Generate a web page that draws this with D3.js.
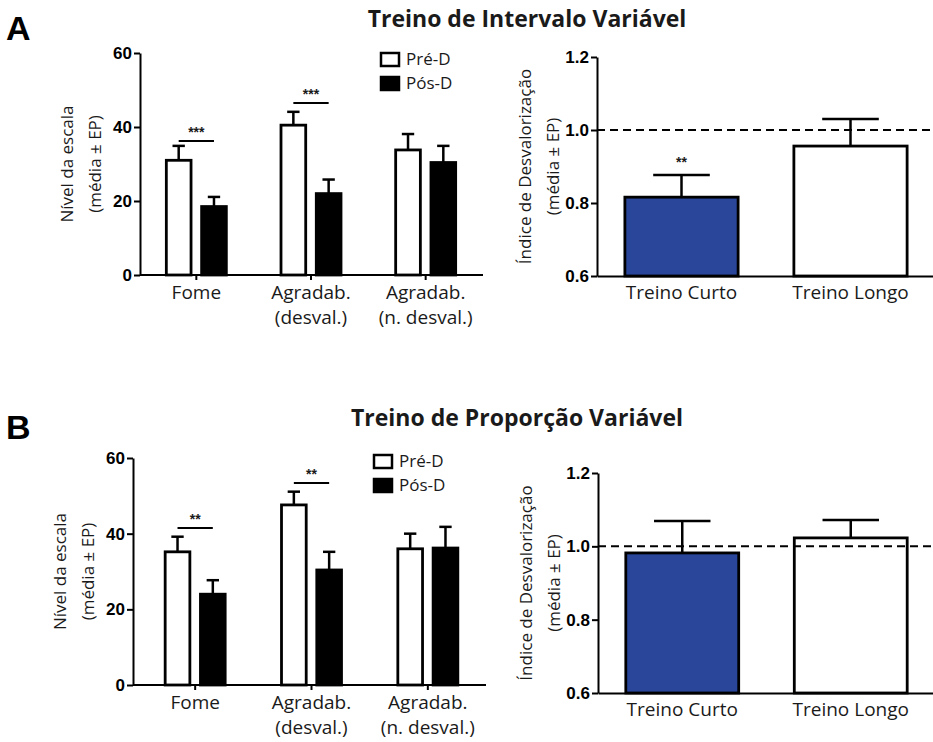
<!DOCTYPE html>
<html>
<head>
<meta charset="utf-8">
<script src="https://cdn.jsdelivr.net/npm/d3@7"></script>
<style>
body { margin: 0; background: #fff; }
svg text { font-family: "Open Sans", sans-serif; fill: #1a1a1a; }
.axis path, .axis line { stroke: #000; stroke-width: 2; }
</style>
</head>
<body>
<div id="plot"></div>
<script>
// Categories and series
var groups = [["Fome"], ["Agradab.", "(desval.)"], ["Agradab.", "(n. desval.)"]];
var phases = ["Pré-D", "Pós-D"];
var phaseFill = ["#fff", "#000"];
var scaleTicks = [0, 20, 40, 60];

// A - Treino de Intervalo Variável
var intervalPre = [31.0, 40.5, 33.8];
var intervalPreErr = [3.9, 3.6, 4.3];
var intervalPost = [18.5, 22.0, 30.4];
var intervalPostErr = [2.6, 3.8, 4.5];
var intervalSig = ["***", "***", ""];
var intervalSigAt = [36.2, 46.5, null];

// B - Treino de Proporção Variável
var ratioPre = [35.2, 47.6, 36.0];
var ratioPreErr = [4.0, 3.5, 4.0];
var ratioPost = [24.0, 30.4, 36.2];
var ratioPostErr = [3.7, 4.8, 5.6];
var ratioSig = ["**", "**", ""];
var ratioSigAt = [41.5, 53.4, null];

// Devaluation index
var trainings = ["Treino Curto", "Treino Longo"];
var trainingFill = ["#2a469a", "#fff"];
var indexTicks = [0.6, 0.8, 1.0, 1.2];
var intervalIndex = [0.816, 0.956];
var intervalIndexErr = [0.061, 0.074];
var intervalIndexSig = ["**", ""];
var ratioIndex = [0.982, 1.023];
var ratioIndexErr = [0.087, 0.049];
var ratioIndexSig = ["", ""];

var width = 933, height = 742;

var svg = d3.select("#plot")
     .append("svg")
     .attr("width", width)
     .attr("height", height);

function errorBar(g, cx, w, y0, y1) {
     g.append("line")
          .attr("x1", cx).attr("x2", cx)
          .attr("y1", y0).attr("y2", y1)
          .attr("stroke", "#000").attr("stroke-width", 2.5);
     g.append("line")
          .attr("x1", cx - w / 4).attr("x2", cx + w / 4)
          .attr("y1", y1).attr("y2", y1)
          .attr("stroke", "#000").attr("stroke-width", 2.5);
}

function styleTicks(sel) {
     sel.selectAll(".tick text")
          .style("font-family", "Liberation Sans, Arial, sans-serif")
          .style("font-weight", "bold")
          .style("font-size", "17px")
          .style("fill", "#000");
}

function yLabel(g, x, y, lines) {
     lines.forEach(function(t, i) {
          g.append("text")
               .attr("transform", "translate(" + (x + i * 28) + "," + y + ") rotate(-90)")
               .attr("text-anchor", "middle")
               .attr("dy", "0.35em")
               .style("font-size", "17px")
               .text(t);
     });
}

// Left chart: Pre/Post bars per group
function drawScaleChart(lay, pre, preErr, post, postErr, sig, sigAt) {
     var g = svg.append("g");
     var values = [pre, post], errs = [preErr, postErr];

     var x0 = d3.scaleBand()
          .domain(d3.range(groups.length))
          .range([lay.left, lay.right]);
     var x1 = d3.scaleBand()
          .domain(d3.range(phases.length))
          .range([-30, 30])
          .paddingInner(0.3);
     var y = d3.scaleLinear()
          .domain([0, 60])
          .range([lay.bottom, lay.top]);

     // bars
     phases.forEach(function(p, j) {
          g.selectAll(".bar" + j)
               .data(values[j])
               .enter()
               .append("rect")
               .attr("x", function(d, i) { return x0(i) + x0.bandwidth() / 2 + x1(j); })
               .attr("y", function(d) { return y(d); })
               .attr("width", x1.bandwidth())
               .attr("height", function(d) { return y(0) - y(d); })
               .attr("fill", phaseFill[j])
               .attr("stroke", "#000")
               .attr("stroke-width", 2.8);

          values[j].forEach(function(v, i) {
               var cx = x0(i) + x0.bandwidth() / 2 + x1(j) + x1.bandwidth() / 2;
               errorBar(g, cx, x1.bandwidth(), y(v), y(v + errs[j][i]));
          });
     });

     // significance bars
     sig.forEach(function(s, i) {
          if (!s) return;
          var c = x0(i) + x0.bandwidth() / 2;
          var xa = c + x1(0) + x1.bandwidth() / 2;
          var xb = c + x1(1) + x1.bandwidth() / 2;
          g.append("line")
               .attr("x1", xa).attr("x2", xb)
               .attr("y1", y(sigAt[i])).attr("y2", y(sigAt[i]))
               .attr("stroke", "#000").attr("stroke-width", 2);
          g.append("text")
               .attr("x", (xa + xb) / 2)
               .attr("y", y(sigAt[i]) - 4)
               .attr("text-anchor", "middle")
               .style("font-family", "Liberation Sans, Arial, sans-serif")
               .style("font-weight", "bold")
               .style("font-size", "14px")
               .text(s);
     });

     // axes
     g.append("g")
          .attr("class", "axis")
          .attr("transform", "translate(0," + lay.bottom + ")")
          .call(d3.axisBottom(x0).tickSize(5).tickSizeOuter(0).tickFormat(""));

     g.append("g")
          .attr("class", "axis")
          .attr("transform", "translate(" + lay.axisX + ",0)")
          .call(d3.axisLeft(y).tickValues(scaleTicks).tickSize(6).tickSizeOuter(0).tickPadding(2))
          .call(styleTicks);

     g.select(".axis path").attr("d", "M" + lay.axisX + ",0H" + lay.right);

     // category labels
     groups.forEach(function(lines, i) {
          var t = g.append("text")
               .attr("text-anchor", "middle")
               .style("font-size", "19px");
          lines.forEach(function(l, k) {
               t.append("tspan")
                    .attr("x", x0(i) + x0.bandwidth() / 2)
                    .attr("y", lay.bottom + 24 + k * 25)
                    .text(l);
          });
     });

     // legend
     phases.forEach(function(p, j) {
          g.append("rect")
               .attr("x", lay.legendX)
               .attr("y", lay.legendY + j * 24)
               .attr("width", 18)
               .attr("height", 13)
               .attr("fill", phaseFill[j])
               .attr("stroke", "#000")
               .attr("stroke-width", 2.5);
          g.append("text")
               .attr("x", lay.legendX + 25)
               .attr("y", lay.legendY + j * 24 + 12)
               .style("font-size", "17px")
               .text(p);
     });

     yLabel(g, lay.axisX - 73, (lay.top + lay.bottom) / 2, ["Nível da escala", "(média ± EP)"]);
}

// Right chart: devaluation index
function drawIndexChart(lay, vals, errs, sig) {
     var g = svg.append("g");

     var x = d3.scaleBand()
          .domain(trainings)
          .range([lay.axisX, width + 2])
          .paddingInner(0.33)
          .paddingOuter(0.165);
     var y = d3.scaleLinear()
          .domain([0.6, 1.2])
          .range([lay.bottom, lay.top]);

     g.selectAll("rect")
          .data(vals)
          .enter()
          .append("rect")
          .attr("x", function(d, i) { return x(trainings[i]); })
          .attr("y", function(d) { return y(d); })
          .attr("width", x.bandwidth())
          .attr("height", function(d) { return y(0.6) - y(d); })
          .attr("fill", function(d, i) { return trainingFill[i]; })
          .attr("stroke", "#000")
          .attr("stroke-width", 2.8);

     vals.forEach(function(v, i) {
          var cx = x(trainings[i]) + x.bandwidth() / 2;
          errorBar(g, cx, x.bandwidth(), y(v), y(v + errs[i]));
          if (sig[i]) {
               g.append("text")
                    .attr("x", cx)
                    .attr("y", y(v + errs[i]) - 8)
                    .attr("text-anchor", "middle")
                    .style("font-family", "Liberation Sans, Arial, sans-serif")
                    .style("font-weight", "bold")
                    .style("font-size", "14px")
                    .text(sig[i]);
          }
     });

     // reference line at 1.0
     g.append("line")
          .attr("x1", lay.axisX).attr("x2", width)
          .attr("y1", y(1)).attr("y2", y(1))
          .attr("stroke", "#000")
          .attr("stroke-width", 2)
          .attr("stroke-dasharray", "8,5");

     g.append("g")
          .attr("class", "axis")
          .attr("transform", "translate(0," + lay.bottom + ")")
          .call(d3.axisBottom(x).tickSize(0).tickSizeOuter(0).tickFormat(""));

     g.append("g")
          .attr("class", "axis")
          .attr("transform", "translate(" + lay.axisX + ",0)")
          .call(d3.axisLeft(y).tickValues(indexTicks).tickFormat(d3.format(".1f")).tickSize(6).tickSizeOuter(0).tickPadding(2))
          .call(styleTicks);

     trainings.forEach(function(t) {
          g.append("text")
               .attr("x", x(t) + x.bandwidth() / 2)
               .attr("y", lay.bottom + 23)
               .attr("text-anchor", "middle")
               .style("font-size", "19px")
               .text(t);
     });

     yLabel(g, lay.axisX - 72, (lay.top + lay.bottom) / 2, ["Índice de Desvalorização", "(média ± EP)"]);
}

function panelTitle(letter, title, titleX, baseline) {
     svg.append("text")
          .attr("x", 6)
          .attr("y", baseline + 13)
          .style("font-family", "Liberation Sans, Arial, sans-serif")
          .style("font-weight", "bold")
          .style("font-size", "34px")
          .style("fill", "#000")
          .text(letter);
     svg.append("text")
          .attr("x", titleX)
          .attr("y", baseline)
          .attr("text-anchor", "middle")
          .style("font-weight", "bold")
          .style("font-size", "23px")
          .text(title);
}

panelTitle("A", "Treino de Intervalo Variável", 527, 27);
drawScaleChart({axisX: 140, left: 139, right: 483, top: 53, bottom: 275, legendX: 381, legendY: 53},
     intervalPre, intervalPreErr, intervalPost, intervalPostErr, intervalSig, intervalSigAt);
drawIndexChart({axisX: 597, top: 57, bottom: 276},
     intervalIndex, intervalIndexErr, intervalIndexSig);

panelTitle("B", "Treino de Proporção Variável", 517, 426);
drawScaleChart({axisX: 133, left: 137, right: 486, top: 458, bottom: 685, legendX: 374, legendY: 455},
     ratioPre, ratioPreErr, ratioPost, ratioPostErr, ratioSig, ratioSigAt);
drawIndexChart({axisX: 598, top: 473, bottom: 693},
     ratioIndex, ratioIndexErr, ratioIndexSig);
</script>
</body>
</html>
